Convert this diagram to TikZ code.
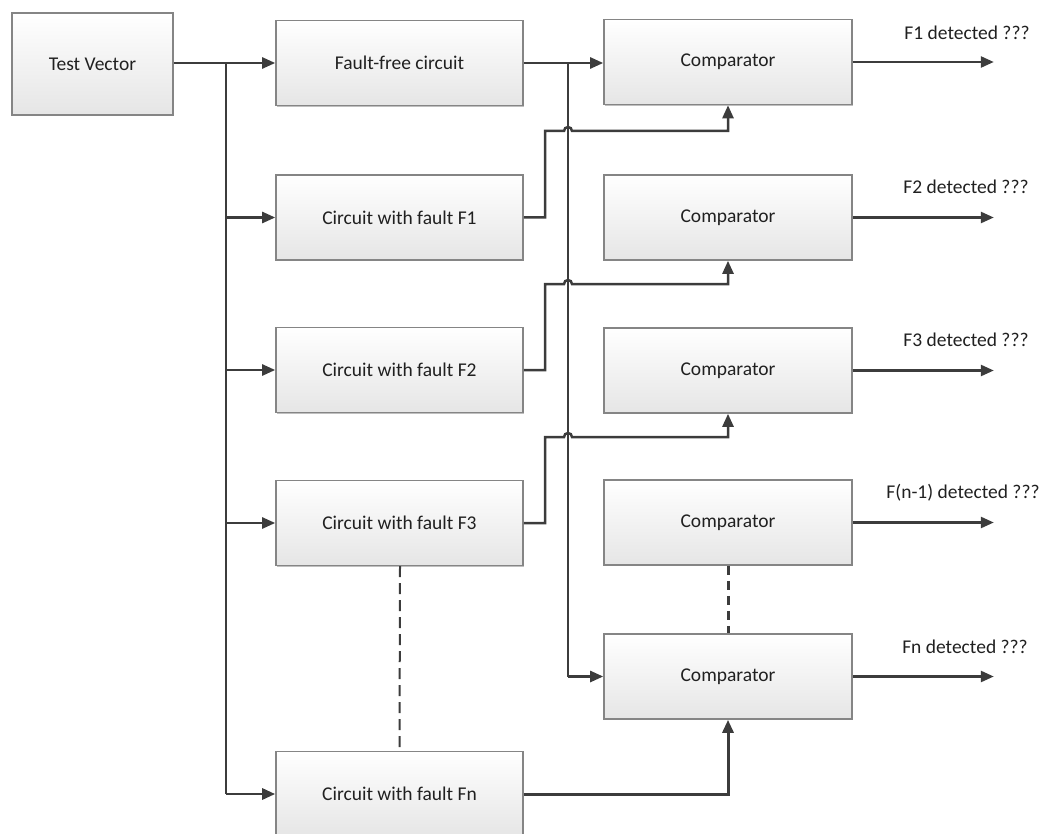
\documentclass[tikz,border=0pt]{standalone}
\usepackage{fontspec}
\setmainfont{Carlito}
\usetikzlibrary{arrows.meta,shadows}
\definecolor{linecol}{HTML}{3C3C3C}
\definecolor{boxline}{HTML}{858585}
\definecolor{txt}{HTML}{202020}
\tikzset{
  blk/.style={draw=boxline, line width=1.6pt, top color=white, bottom color=black!10,
    minimum width=247pt, minimum height=85pt, inner sep=0pt,
    font=\fontsize{19.5}{22}\selectfont, text=txt,
    drop shadow={shadow xshift=1.3pt, shadow yshift=-1.3pt, opacity=0.25, fill=black}},
  conn/.style={draw=linecol, line width=2.5pt, -{Triangle[length=13pt,width=11pt]}},
  wire/.style={draw=linecol, line width=2.5pt},
  gap/.style={draw=linecol, line width=2.5pt, dash pattern=on 9pt off 6pt},
  outlbl/.style={font=\fontsize{19.5}{22}\selectfont, text=txt, inner sep=0pt}
}
\begin{document}
\begin{tikzpicture}[x=1pt,y=-1pt]
\useasboundingbox (0,0) rectangle (1048,834);

% source and circuit blocks
\node[blk, minimum width=161pt, minimum height=102pt] (tv) at (92.5,64) {Test Vector};
\node[blk] (ff) at (399.5,63) {Fault-free circuit};
\node[blk] (f1) at (399.5,217.5) {Circuit with fault F1};
\node[blk] (f2) at (399.5,370) {Circuit with fault F2};
\node[blk] (f3) at (399.5,523) {Circuit with fault F3};
\node[blk] (fn) at (399.5,794) {Circuit with fault Fn};

% comparators
\node[blk, minimum width=248pt] (c1) at (728,62) {Comparator};
\node[blk, minimum width=248pt] (c2) at (728,217.5) {Comparator};
\node[blk, minimum width=248pt] (c3) at (728,370.5) {Comparator};
\node[blk, minimum width=248pt] (c4) at (728,522.5) {Comparator};
\node[blk, minimum width=248pt] (cn) at (728,676.5) {Comparator};

% result labels
\node[outlbl] (l1) at (967,33) {F1 detected ???};
\node[outlbl] (l2) at (966,187) {F2 detected ???};
\node[outlbl] (l3) at (966,340) {F3 detected ???};
\node[outlbl] (l4) at (963,493) {F(n-1) detected ???};
\node[outlbl] (l5) at (965,647) {Fn detected ???};

% test vector distribution
\draw[conn] (tv.east |- ff.west) -- (ff.west);
\draw[wire] (226,63) -- (226,794);
\draw[conn] (226,217.5) -- (f1.west);
\draw[conn] (226,370) -- (f2.west);
\draw[conn] (226,523) -- (f3.west);
\draw[conn, line width=2.9pt] (226,794) -- (fn.west);

% fault-free reference bus
\draw[conn] (ff.east) -- (ff.east -| c1.west);
\draw[wire] (568,63) -- (568,676.5);
\draw[conn] (568,676.5) -- (cn.west);

% faulty outputs hopping over the bus
\draw[conn] (f1.east) -- (545,217.5) |- (564,131) arc[start angle=180,end angle=0,radius=4pt] -| (c1.south);
\draw[conn] (f2.east) -- (545,370) |- (564,284) arc[start angle=180,end angle=0,radius=4pt] -| (c2.south);
\draw[conn] (f3.east) -- (545,523) |- (564,437) arc[start angle=180,end angle=0,radius=4pt] -| (c3.south);
\draw[conn, line width=3pt] (fn.east) -| (cn.south);

% omitted stages
\draw[draw=linecol, line width=2pt, dash pattern=on 11pt off 6pt] (400,566) -- (fn.north);
\draw[gap, line width=3pt] (c4.south) -- (cn.north);

% detection outputs
\draw[conn] (c1.east) -- ++(141,0);
\draw[conn] (c2.east) -- ++(141,0);
\draw[conn] (c3.east) -- ++(141,0);
\draw[conn] (c4.east) -- ++(141,0);
\draw[conn] (cn.east) -- ++(141,0);
\end{tikzpicture}
\end{document}
